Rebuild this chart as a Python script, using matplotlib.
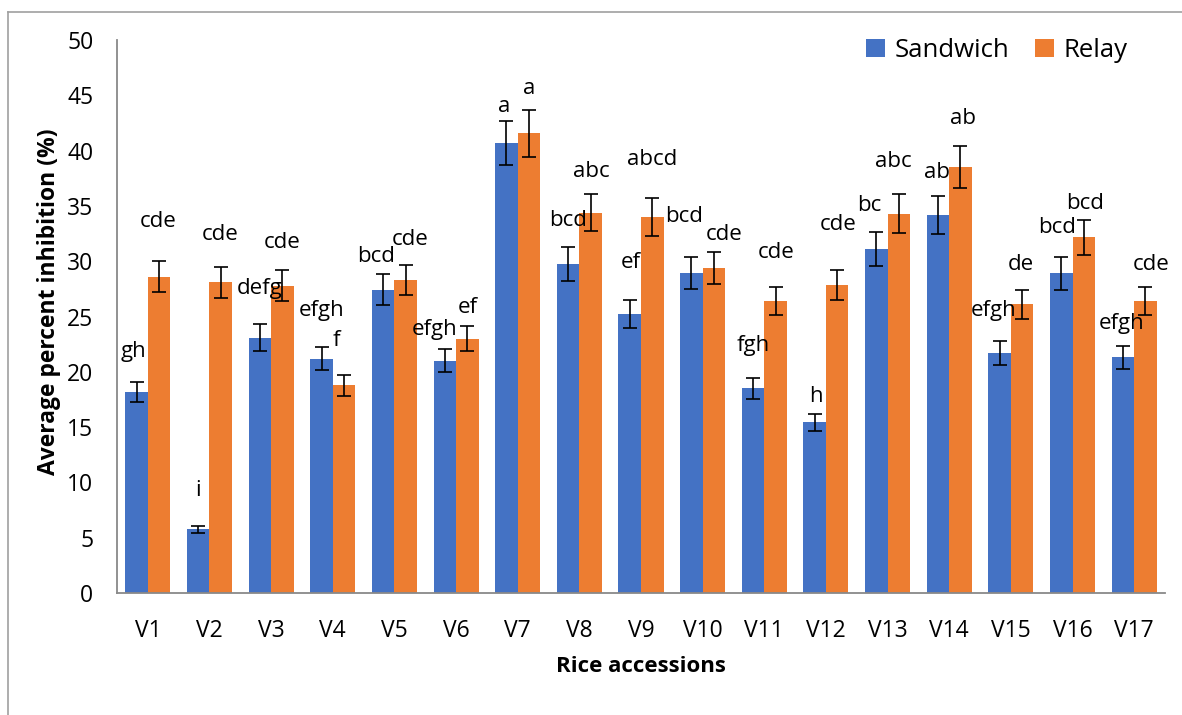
import numpy as np
import matplotlib
matplotlib.use("Agg")
import matplotlib.pyplot as plt
from matplotlib.lines import Line2D

plt.rcParams['font.family'] = ['Open Sans', 'DejaVu Sans']

accessions = ["V1", "V2", "V3", "V4", "V5", "V6", "V7", "V8", "V9", "V10",
              "V11", "V12", "V13", "V14", "V15", "V16", "V17"]
sandwich = [18.2, 5.76, 23.1, 21.2, 27.4, 21.0, 40.66, 29.75, 25.2, 28.9,
            18.5, 15.43, 31.1, 34.15, 21.7, 28.9, 21.3]
relay = [28.6, 28.1, 27.8, 18.8, 28.3, 23.0, 41.56, 34.4, 34.0, 29.4,
         26.4, 27.85, 34.3, 38.5, 26.1, 32.15, 26.4]
sandwich_err = [0.9, 0.3, 1.2, 1.05, 1.4, 1.05, 2.0, 1.5, 1.27, 1.45,
                0.93, 0.78, 1.55, 1.7, 1.1, 1.47, 1.07]
relay_err = [1.4, 1.4, 1.4, 0.95, 1.4, 1.1, 2.1, 1.7, 1.7, 1.45,
             1.3, 1.39, 1.75, 1.9, 1.3, 1.6, 1.3]
sandwich_groups = ["gh", "i", "defg", "efgh", "bcd", "efgh", "a", "bcd", "ef", "bcd",
                   "fgh", "h", "bc", "ab", "efgh", "bcd", "efgh"]
relay_groups = ["cde", "cde", "cde", "f", "cde", "ef", "a", "abc", "abcd", "cde",
                "cde", "cde", "abc", "ab", "de", "bcd", "cde"]

# where the letter labels sit (x offset from category centre, y in data units)
s_lab_dx = [-0.235, -0.19, -0.18, -0.18, -0.30, -0.34, -0.22, -0.18, -0.17, -0.30,
            -0.18, -0.17, -0.29, -0.20, -0.28, -0.25, -0.20]
s_lab_y = [21.8, 9.3, 27.55, 25.5, 30.4, 23.8, 43.97, 33.7, 29.9, 34.0,
           22.4, 17.8, 35.0, 38.0, 25.5, 33.05, 24.35]
r_lab_dx = [0.17, 0.17, 0.18, 0.06, 0.25, 0.19, 0.18, 0.19, 0.18, 0.35,
            0.19, 0.19, 0.09, 0.23, 0.16, 0.20, 0.28]
r_lab_y = [33.57, 32.4, 31.67, 22.8, 31.92, 25.8, 45.57, 38.1, 39.2, 32.4,
           30.8, 33.35, 39.0, 42.9, 29.7, 35.2, 29.7]

blue = "#4472C4"
orange = "#ED7D31"
grey = "#898989"

fig = plt.figure(figsize=(11.82, 7.15), dpi=100)
ax = fig.add_axes([117/1182, 1-593/715, 1048/1182, 553/715])

x = np.arange(len(accessions))
w = 0.365
ax.bar(x - w/2, sandwich, w, color=blue, label="Sandwich", zorder=2)
ax.bar(x + w/2, relay, w, color=orange, label="Relay", zorder=2)
ax.errorbar(x - w/2, sandwich, yerr=sandwich_err, fmt='none', ecolor='black',
            elinewidth=1.2, capsize=5, capthick=1.2, zorder=3)
ax.errorbar(x + w/2, relay, yerr=relay_err, fmt='none', ecolor='black',
            elinewidth=1.2, capsize=5, capthick=1.2, zorder=3)

for i in range(len(accessions)):
    ax.text(x[i] + s_lab_dx[i], s_lab_y[i], sandwich_groups[i], ha='center',
            va='center', fontsize=16, color='black', zorder=4)
    ax.text(x[i] + r_lab_dx[i], r_lab_y[i], relay_groups[i], ha='center',
            va='center', fontsize=16, color='black', zorder=4)

ax.set_xlim(-0.5, len(accessions) - 0.5)
ax.set_ylim(0, 50)
ax.set_yticks(range(0, 51, 5))
ax.set_xticks(x)
ax.set_xticklabels(accessions)
ax.tick_params(axis='both', length=0, labelsize=16.5)
ax.tick_params(axis='y', pad=17)
ax.tick_params(axis='x', pad=19)

for side in ['top', 'right']:
    ax.spines[side].set_visible(False)
for side in ['left', 'bottom']:
    ax.spines[side].set_color(grey)
    ax.spines[side].set_linewidth(1.3)

ax.set_xlabel("Rice accessions", fontsize=16, fontweight='bold', labelpad=9)
ax.set_ylabel("Average percent inhibition (%)", fontsize=16.5, fontweight='bold')
ax.yaxis.set_label_coords(-0.053, 0.526)

fig.legend(loc='upper right', bbox_to_anchor=(1127/1182, 1-38/715), ncol=2,
           frameon=False, fontsize=18.5, handlelength=0.75, handleheight=0.75,
           handletextpad=0.35, columnspacing=1.0, borderpad=0, borderaxespad=0)

# thin chart-area border on the top and left
fig.add_artist(Line2D([8/1182, 1], [1-12/715, 1-12/715], color="#a0a0a0", lw=1.2))
fig.add_artist(Line2D([8/1182, 8/1182], [0, 1-12/715], color="#a0a0a0", lw=1.2))

fig.savefig("out.png", dpi=100)
